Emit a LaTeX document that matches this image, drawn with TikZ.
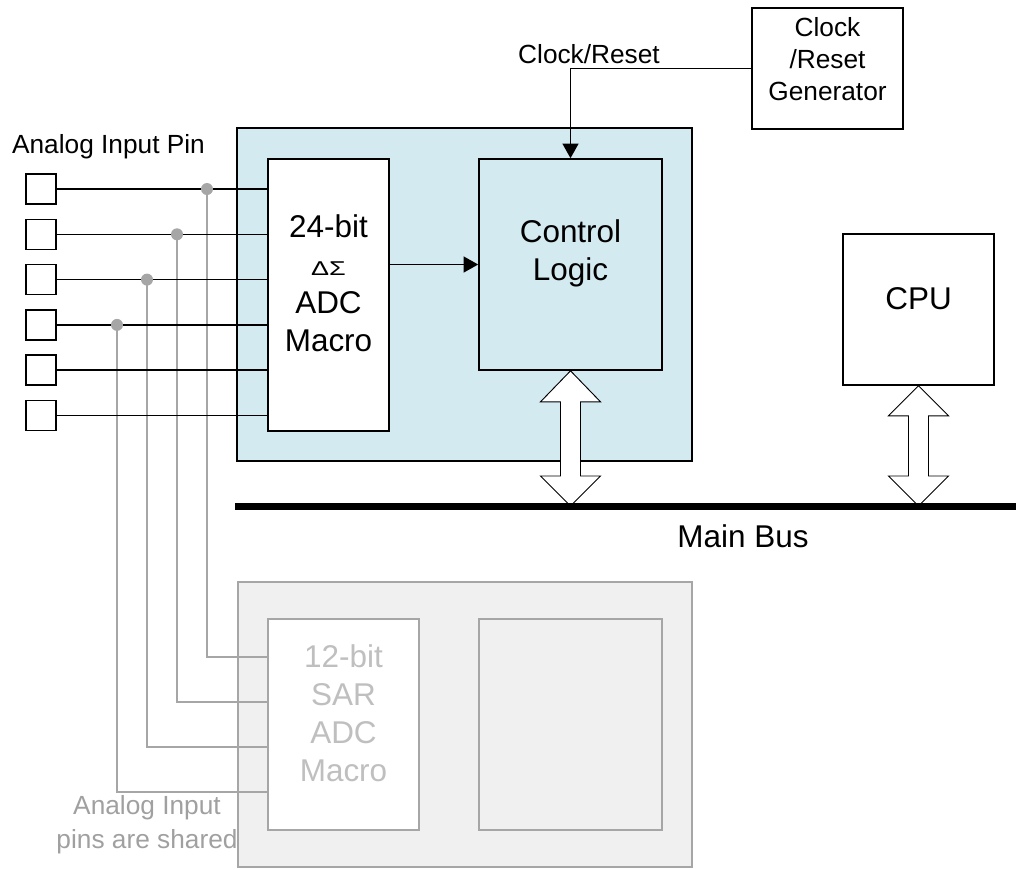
\documentclass[tikz,border=0pt]{standalone}
\usepackage{fontspec}
\usepackage{graphicx}
\setmainfont{Liberation Sans}
\usetikzlibrary{arrows.meta,calc,fit}

\definecolor{macroblue}{HTML}{D3EAF0}
\definecolor{sharedgrey}{HTML}{A6A6A6}
\definecolor{notegrey}{HTML}{A0A0A0}
\definecolor{fadedtext}{HTML}{BFBFBF}
\definecolor{fadedfill}{HTML}{F0F0F0}

\tikzset{
  box/.style={draw=black, line width=1.2pt, inner sep=0pt, align=center},
  fadedbox/.style={draw=sharedgrey, line width=1.2pt, inner sep=0pt, align=center},
  bigtext/.style={font=\fontsize{23.6}{28.5}\selectfont},
  smalltext/.style={font=\fontsize{19.7}{24}\selectfont},
  pinbox/.style={draw=black, line width=1.2pt, fill=white, minimum size=22.5pt, inner sep=0pt},
  wire/.style={draw=black, line width=1.2pt},
  tapwire/.style={draw=sharedgrey, line width=1.2pt},
  tapdot/.style={circle, fill=sharedgrey, minimum size=9pt, inner sep=0pt},
  sig/.style={wire, -{Triangle[length=11pt,width=12pt]}},
  busarrow/.style={draw=black, line width=0.7pt, fill=white, line join=miter},
  busline/.style={draw=black, line width=5.25pt},
}

\begin{document}
\begin{tikzpicture}[x=0.75pt, y=-0.75pt]
\useasboundingbox (0,0) rectangle (1016,869);

% 24-bit delta-sigma block
\node[box, fill=macroblue, fit={(237,128) (692,461)}] (dsblock) {};
\node[box, fill=white, bigtext, fit={(268,159) (389,431)}] (adc)
  {24-bit\\\scalebox{1.35}[1]{\fontsize{15}{28.5}\selectfont ΔΣ}\\ADC\\Macro};
\node[box, fill=macroblue, bigtext, fit={(479,159) (662,370)}] (ctrl) {Control\\Logic};

% clock generator and CPU
\node[box, fill=white, smalltext, fit={(752,8) (903,129)}] (gen) {Clock\\/Reset\\Generator};
\node[box, fill=white, bigtext, fit={(843,234) (994,385)}] (cpu) {CPU};

% 12-bit SAR block (shown faded)
\node[fadedbox, fill=fadedfill, fit={(238,582) (692,867)}] (sarblock) {};
\node[fadedbox, fill=white, bigtext, text=fadedtext, fit={(268,619) (419,830)}] (sar)
  {12-bit\\SAR\\ADC\\Macro};
\node[fadedbox, fill=fadedfill, fit={(479,619) (662,830)}] (sarlogic) {};

% analog input pins
\foreach \i/\y in {1/189,2/234.3,3/279.6,4/324.9,5/370.2,6/415.5}
  \node[pinbox] (pin\i) at (41,\y) {};

% shared-pin taps towards the SAR macro
\foreach \i/\x/\ty in {1/207/657, 2/177/702, 3/147/747, 4/117/792} {
  \coordinate (col\i) at (\x,0);
  \coordinate (row\i) at (0,\ty);
  \coordinate (tap\i) at (pin\i.east -| col\i);
  \draw[tapwire] (tap\i) -- (tap\i |- row\i) -- (sar.west |- row\i);
}

% pin wires into the delta-sigma macro
\foreach \i in {1,...,6}
  \draw[wire] (pin\i.east) -- (pin\i.east -| adc.west);

\foreach \i in {1,...,4}
  \node[tapdot] (dot\i) at (tap\i) {};

% signals
\draw[sig] (ctrl.west -| adc.east) -- (ctrl.west);
\draw[sig] (gen.west) -| (ctrl.north);

% main bus and its bidirectional links
\coordinate (busL) at (235,506);
\coordinate (busR) at (1016,506);
\coordinate (ctrlbus) at (ctrl.south |- busL);
\coordinate (cpubus) at (cpu.south |- busL);

\draw[busarrow] (ctrl.south) -- ++(30,31) -- ++(-20,0) -- ($(ctrlbus)+(10,-30)$)
  -- ++(20,0) -- (ctrlbus) -- ++(-30,-30) -- ++(20,0) -- ($(ctrl.south)+(-10,31)$)
  -- ++(-20,0) -- cycle;
\draw[busarrow] (cpu.south) -- ++(30,30) -- ++(-20,0) -- ($(cpubus)+(10,-30)$)
  -- ++(20,0) -- (cpubus) -- ++(-30,-30) -- ++(20,0) -- ($(cpu.south)+(-10,30)$)
  -- ++(-20,0) -- cycle;

\draw[busline] (busL) -- (busR);

% labels
\node[smalltext, anchor=base] (pinlabel) at (108.5,153) {Analog Input Pin};
\node[smalltext, anchor=base] (clklabel) at (589,63) {Clock/Reset};
\node[bigtext, anchor=base] (buslabel) at (743,547) {Main Bus};
\node[text=notegrey, align=center, font=\fontsize{19.7}{25.5}\selectfont, inner sep=0pt]
  (sharednote) at (147,825) {Analog Input\\pins are shared};
\end{tikzpicture}
\end{document}
